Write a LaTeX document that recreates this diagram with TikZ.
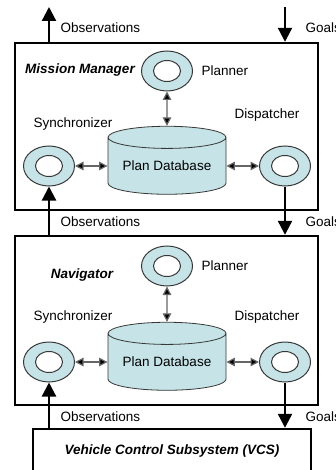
\documentclass[tikz,border=0pt]{standalone}
\usepackage{fontspec}
\setmainfont{Liberation Sans}
\usetikzlibrary{arrows.meta,positioning,shapes.geometric}
\definecolor{ringfill}{RGB}{198,227,231}
\definecolor{ringline}{RGB}{55,55,55}
\tikzset{
  ring state/.style={
    draw=ringline,
    fill=ringfill,
    line width=1pt,
    shape=ellipse,
    minimum width=51pt,
    minimum height=40pt,
    inner sep=0pt,
    path picture={
      \draw[ringline, fill=white, line width=1pt] (path picture bounding box.center) ellipse [x radius=13.5pt, y radius=10.5pt];
    }
  },
  db state/.style={
    draw=ringline,
    fill=ringfill,
    line width=0.8pt,
    shape=cylinder,
    shape border rotate=90,
    aspect=0.25,
    minimum width=118pt,
    minimum height=68pt,
    inner sep=0pt
  },
  layer box/.style={
    draw,
    line width=2.4pt,
    inner sep=0pt
  },
  layer title/.style={
    font=\fontsize{13.5}{16}\selectfont\bfseries\itshape
  }
}

\begin{document}
\begin{tikzpicture}[%
            x=1pt,
            y=-1pt,
            font=\fontsize{13.5}{16}\selectfont,
            on grid,
            node distance=96pt and 118pt,
            flow/.style={line width=2.2pt, -{Triangle[length=14pt,width=14pt]}},
            link/.style={draw=black!60, line width=1.2pt,
              {Triangle[length=8.5pt,width=8.5pt,fill=black]}-{Triangle[length=8.5pt,width=8.5pt,fill=black]}}]
    \useasboundingbox (0,0) rectangle (335,470);

    % Mission Manager
    \node[layer box, minimum width=303pt, minimum height=167pt] (mm) at (166.5,126.5) {};
    \node[db state] (db_1) at (167,166) {Plan Database};
    \node[ring state] (sync_1) [left=of db_1] {};
    \node[ring state] (disp_1) [right=of db_1] {};
    \node[ring state] (plan_1) [above=95pt of db_1] {};
    \node[layer title] (mm_title) at (80,70) {Mission Manager};
    \node (plan_1_txt) [right=31pt of plan_1, anchor=west] {Planner};
    \node (sync_1_txt) at (73,124) {Synchronizer};
    \node (disp_1_txt) at (267,115) {Dispatcher};
    \draw[link] (sync_1) -- (db_1);
    \draw[link] (db_1) -- (disp_1);
    \draw[link] (plan_1) -- (db_1);

    % Navigator
    \node[layer box, minimum width=303pt, minimum height=169pt] (nav) at (166.5,320.5) {};
    \node[db state] (db_2) at (167,362) {Plan Database};
    \node[ring state] (sync_2) [left=of db_2] {};
    \node[ring state] (disp_2) [right=of db_2] {};
    \node[ring state] (plan_2) [above=of db_2] {};
    \node[layer title] (nav_title) at (82,275) {Navigator};
    \node (plan_2_txt) [right=31pt of plan_2, anchor=west] {Planner};
    \node (sync_2_txt) at (73,317) {Synchronizer};
    \node (disp_2_txt) at (267,317) {Dispatcher};
    \draw[link] (sync_2) -- (db_2);
    \draw[link] (db_2) -- (disp_2);
    \draw[link] (plan_2) -- (db_2);

    % Vehicle Control Subsystem
    \node[layer box, layer title, minimum width=278pt, minimum height=44pt] (vcs) at (172,451) {Vehicle Control Subsystem (VCS)};

    % observations go up, goals come down
    \coordinate (obs_out) at (49,7);
    \coordinate (goals_in) at (285,7);
    \draw[flow] (obs_out |- mm.north) -- (obs_out);
    \draw[flow] (goals_in) -- (goals_in |- mm.north);
    \draw[flow] (nav.north -| sync_1) -- (sync_1);
    \draw[flow] (disp_1) -- (disp_1 |- nav.north);
    \draw[flow] (vcs.north -| sync_2) -- (sync_2);
    \draw[flow] (disp_2) -- (disp_2 |- vcs.north);

    \node[anchor=west] (obs_txt_1) at (57,28) {Observations};
    \node[anchor=west] (goals_txt_1) at (302,28) {Goals};
    \node[anchor=west] (obs_txt_2) at (57,222) {Observations};
    \node[anchor=west] (goals_txt_2) at (302,222) {Goals};
    \node[anchor=west] (obs_txt_3) at (57,417) {Observations};
    \node[anchor=west] (goals_txt_3) at (302,417) {Goals};
\end{tikzpicture}
\end{document}
